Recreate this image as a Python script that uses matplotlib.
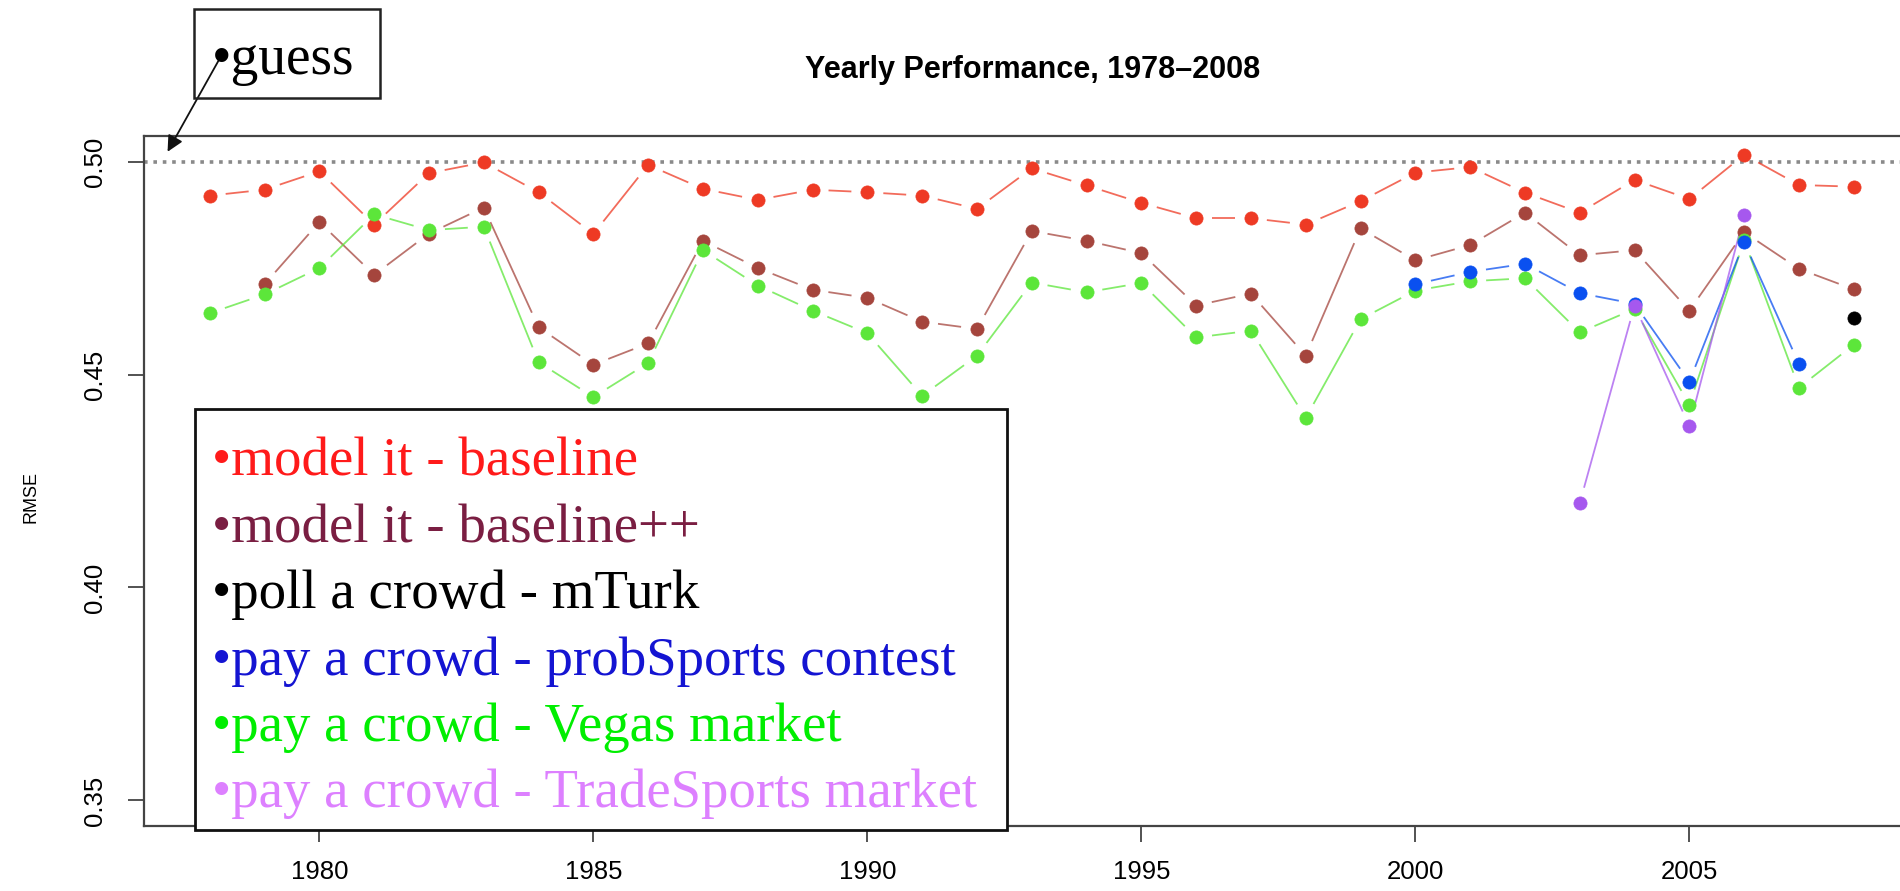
import numpy as np
import matplotlib
matplotlib.use("Agg")
import matplotlib.pyplot as plt
from matplotlib.patches import Rectangle

nan = float("nan")

# ---------------- data ----------------
years = list(range(1978, 2009))
baseline = [0.4920, 0.4934, 0.4977, 0.4852, 0.4973, 0.4998, 0.4928, 0.4830, 0.4992, 0.4936,
            0.4910, 0.4934, 0.4928, 0.4920, 0.4889, 0.4984, 0.4944, 0.4903, 0.4867, 0.4867,
            0.4852, 0.4907, 0.4974, 0.4987, 0.4927, 0.4880, 0.4957, 0.4912, 0.5016, 0.4945, 0.4941]
baseline_pp = [nan, 0.4712, 0.4858, 0.4734, 0.4831, 0.4892, 0.4611, 0.4523, 0.4573, 0.4814,
               0.4750, 0.4699, 0.4680, 0.4624, 0.4607, 0.4837, 0.4814, 0.4785, 0.4662, 0.4690,
               0.4544, 0.4843, 0.4768, 0.4804, 0.4880, 0.4780, 0.4792, 0.4650, 0.4834, 0.4748, 0.4700]
vegas = [0.4644, 0.4688, 0.4750, 0.4876, 0.4839, 0.4847, 0.4529, 0.4447, 0.4527, 0.4792,
         0.4709, 0.4650, 0.4597, 0.4450, 0.4544, 0.4716, 0.4693, 0.4715, 0.4587, 0.4603,
         0.4398, 0.4630, 0.4697, 0.4719, 0.4726, 0.4599, 0.4654, 0.4429, 0.4815, 0.4469, 0.4570]
probsports_years = [2000, 2001, 2002, 2003, 2004, 2005, 2006, 2007]
probsports = [0.4712, 0.4741, 0.4760, 0.4691, 0.4666, 0.4483, 0.4811, 0.4525]
tradesports_years = [2003, 2004, 2005, 2006]
tradesports = [0.4198, 0.4662, 0.4379, 0.4874]
mturk_years = [2008]
mturk = [0.4632]
guess_value = 0.50

legend_labels = ["model it - baseline", "model it - baseline++", "poll a crowd - mTurk",
                 "pay a crowd - probSports contest", "pay a crowd - Vegas market",
                 "pay a crowd - TradeSports market"]
legend_colors = ["#FF1A1A", "#7A1E42", "#000000", "#1414D2", "#00EE00", "#DD80FF"]

xticks = [1980, 1985, 1990, 1995, 2000, 2005]
yticks = [0.35, 0.40, 0.45, 0.50]
title = "Yearly Performance, 1978\u20132008"

# ---------------- figure ----------------
W, H = 1900, 891
fig = plt.figure(figsize=(W / 100, H / 100), dpi=100)

def fx(px):
    return px / W

def fy(py):
    return 1 - py / H

ax_l, ax_r, ax_t, ax_b = 144, 1919.5, 136, 826
ax = fig.add_axes([fx(ax_l), fy(ax_b), fx(ax_r - ax_l), (ax_b - ax_t) / H])
ax.set_xlim(1976.8, 2009.2)
ax.set_ylim(0.344, 0.506)

ax.axhline(guess_value, color="#8a8a8a", lw=2.6, ls=(0, (1, 1.6)), dash_capstyle="butt", zorder=1)

series = [
    (years, baseline, "#EE3A24"),
    (years, baseline_pp, "#A5453D"),
    (years, vegas, "#5CE63A"),
    (probsports_years, probsports, "#0A50F0"),
    (tradesports_years, tradesports, "#A658EE"),
    (mturk_years, mturk, "#000000"),
]

gap = 16.0  # pixel gap around points (R type="b")
inv = ax.transData.inverted()
for k, (xs, ys, col) in enumerate(series):
    xs = np.asarray(xs, dtype=float)
    ys = np.asarray(ys, dtype=float)
    pts = ax.transData.transform(np.column_stack([xs, ys]))
    for i in range(len(xs) - 1):
        if not (np.isfinite(ys[i]) and np.isfinite(ys[i + 1])):
            continue
        p0, p1 = pts[i], pts[i + 1]
        d = p1 - p0
        L = np.hypot(*d)
        if L <= 2 * gap:
            continue
        a = p0 + d / L * gap
        b = p1 - d / L * gap
        seg = inv.transform(np.vstack([a, b]))
        ax.plot(seg[:, 0], seg[:, 1], color=col, lw=1.3, alpha=0.75, zorder=2 + k,
                solid_capstyle="butt")
    ax.plot(xs, ys, ls="none", marker="o", ms=9.5, color=col, mec=col, mew=0.5, zorder=10 + k)

# axes styling
for s in ["top", "left", "bottom", "right"]:
    ax.spines[s].set_color("#444444")
    ax.spines[s].set_linewidth(1.6)

ax.set_xticks(xticks)
ax.set_xticklabels([str(t) for t in xticks], fontfamily="Liberation Sans", fontsize=18.5)
ax.set_yticks(yticks)
ax.set_yticklabels([f"{t:.2f}" for t in yticks], rotation=90, va="center",
                   fontfamily="Liberation Sans", fontsize=18.5)
ax.tick_params(axis="x", direction="out", length=11.5, width=1.3, color="#444444", pad=13)
ax.tick_params(axis="y", direction="out", length=11.5, width=1.3, color="#444444", pad=15)

ax.set_ylabel("RMSE", fontfamily="Liberation Sans", fontsize=13)
ax.yaxis.set_label_coords((40 - ax_l) / (ax_r - ax_l), (ax_b - 497) / (ax_b - ax_t))

fig.text(fx(1033), fy(70), title, ha="center", va="center", fontfamily="Liberation Sans",
         fontweight="bold", fontsize=22)

# guess box + arrow
fig.patches.append(Rectangle((fx(194), fy(98)), fx(380 - 194), (98 - 9) / H,
                             transform=fig.transFigure, fill=False, ec="#222222", lw=1.8))
fig.text(fx(212), fy(74), "\u2022guess", ha="left", va="baseline",
         fontfamily="Liberation Serif", fontsize=40, color="black")
ax.annotate("", xy=(1977.23, 0.5023), xycoords="data",
            xytext=(220, H - 58), textcoords="figure pixels",
            arrowprops=dict(arrowstyle="-|>", color="#111111", lw=1.3,
                            mutation_scale=24, shrinkA=0, shrinkB=0),
            annotation_clip=False)

# legend box
fig.patches.append(Rectangle((fx(195), fy(830)), fx(1007 - 195), (830 - 409) / H,
                             transform=fig.transFigure, fc="white", ec="#111111", lw=2.0,
                             zorder=20))
for i, (lab, col) in enumerate(zip(legend_labels, legend_colors)):
    fig.text(fx(212), fy(476 + 66.2 * i), "\u2022" + lab, ha="left", va="baseline",
             fontfamily="Liberation Serif", fontsize=39.5, color=col, zorder=21)

fig.savefig("out.png", dpi=100)
